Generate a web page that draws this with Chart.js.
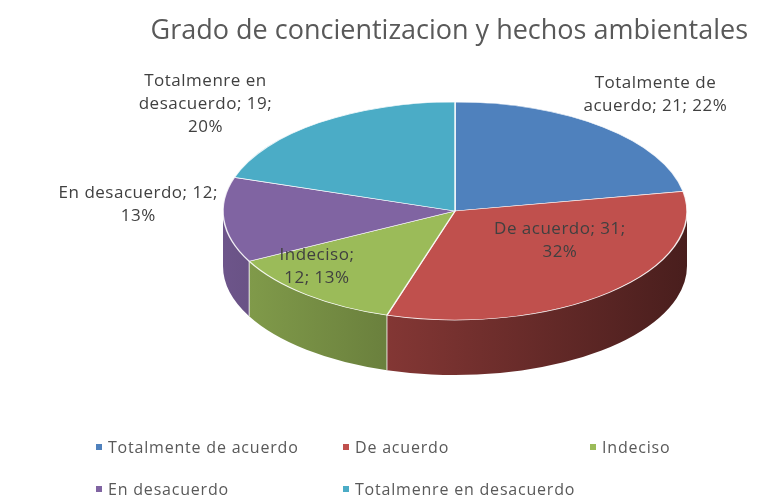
<!DOCTYPE html>
<html>
<head>
<meta charset="utf-8">
<script src="https://cdn.jsdelivr.net/npm/chart.js@4.4.1/dist/chart.umd.min.js"></script>
<style>
  html, body { margin: 0; padding: 0; background: #fff; }
  #wrap { position: relative; width: 763px; height: 501px; }
  #legend {
    position: absolute; left: 96px; top: 436px;
    display: grid; grid-template-columns: 247px 247px 150px; row-gap: 20px;
    font-family: 'Open Sans', sans-serif; font-size: 16px; letter-spacing: 0.8px;
    color: #595959; line-height: 22px;
  }
  .item { display: flex; align-items: center; white-space: nowrap; }
  .sw { width: 6px; height: 6px; margin-right: 6px; }
</style>
</head>
<body>
<div id="wrap">
  <canvas id="myChart" width="763" height="501"></canvas>
  <div id="legend"></div>
</div>
<script>
const categories = ['Totalmente de acuerdo', 'De acuerdo', 'Indeciso', 'En desacuerdo', 'Totalmenre en desacuerdo'];
const counts = [21, 31, 12, 12, 19];
const percents = [22, 32, 13, 13, 20];
const colors = ['#4f81bd', '#c0504d', '#9bbb59', '#8064a2', '#4bacc6'];

// where the tilted pie sits on the page
const pie = { cx: 455, cy: 211, rx: 232, ry: 109, depth: 55 };
// label anchor: [x factor, y factor, wrap width]
const labelPlace = [[1.35, 1.39, 160], [0.68, 0.36, 140], [0.93, 0.67, 90], [1.37, -0.67, 175], [1.83, 1.21, 140]];

const shade = (hex, f) => {
  const n = parseInt(hex.slice(1), 16);
  const r = Math.round(((n >> 16) & 255) * f), g = Math.round(((n >> 8) & 255) * f), b = Math.round((n & 255) * f);
  return `rgb(${r},${g},${b})`;
};

const wrapText = (ctx, text, width) => {
  const words = text.split(' ');
  const lines = [];
  let line = words[0];
  for (let i = 1; i < words.length; i++) {
    const test = line + ' ' + words[i];
    if (ctx.measureText(test).width > width) { lines.push(line); line = words[i]; }
    else line = test;
  }
  lines.push(line);
  return lines;
};

const tiltPlugin = {
  id: 'tilt',
  beforeDatasetsDraw(chart) {
    const ctx = chart.ctx;
    const arcs = chart.getDatasetMeta(0).data;
    // side walls (front half only)
    arcs.forEach((arc, i) => {
      const a1 = Math.max(arc.startAngle, 0), a2 = Math.min(arc.endAngle, Math.PI);
      if (a2 <= a1) return;
      const g = ctx.createLinearGradient(pie.cx - pie.rx, 0, pie.cx + pie.rx, 0);
      g.addColorStop(0, shade(colors[i], 0.85));
      g.addColorStop(1, shade(colors[i], 0.38));
      ctx.beginPath();
      ctx.ellipse(pie.cx, pie.cy, pie.rx, pie.ry, 0, a1, a2);
      ctx.ellipse(pie.cx, pie.cy + pie.depth, pie.rx, pie.ry, 0, a2, a1, true);
      ctx.closePath();
      ctx.fillStyle = g;
      ctx.fill();
      if (arc.startAngle > 0) {
        const x = pie.cx + pie.rx * Math.cos(a1), y = pie.cy + pie.ry * Math.sin(a1);
        ctx.beginPath();
        ctx.moveTo(x, y);
        ctx.lineTo(x, y + pie.depth);
        ctx.strokeStyle = 'rgba(255,255,255,0.8)';
        ctx.lineWidth = 1;
        ctx.stroke();
      }
    });
    // squash the flat pie into the top face
    const a = arcs[0];
    ctx.save();
    ctx.translate(pie.cx, pie.cy);
    ctx.scale(pie.rx / a.outerRadius, pie.ry / a.outerRadius);
    ctx.translate(-a.x, -a.y);
  },
  afterDatasetsDraw(chart) {
    const ctx = chart.ctx;
    ctx.restore();
    const arcs = chart.getDatasetMeta(0).data;
    ctx.save();
    ctx.font = "17px 'Open Sans'";
    ctx.letterSpacing = '0.5px';
    ctx.fillStyle = '#404040';
    ctx.textAlign = 'center';
    ctx.textBaseline = 'middle';
    arcs.forEach((arc, i) => {
      const mid = (arc.startAngle + arc.endAngle) / 2;
      const [fx, fy, w] = labelPlace[i];
      const x = pie.cx + fx * pie.rx * Math.cos(mid);
      const y = pie.cy + fy * pie.ry * Math.sin(mid);
      const lines = wrapText(ctx, `${categories[i]}; ${counts[i]}; ${percents[i]}%`, w);
      const lh = 23;
      lines.forEach((l, k) => ctx.fillText(l, x, y + (k - (lines.length - 1) / 2) * lh));
    });
    ctx.restore();
  }
};

const ctx = document.getElementById('myChart').getContext('2d');
const chart = new Chart(ctx, {
  type: 'pie',
  data: {
    labels: categories,
    datasets: [{
      data: counts,
      backgroundColor: colors,
      borderColor: 'rgba(255,255,255,0.85)',
      borderWidth: 1.5,
    }]
  },
  options: {
    responsive: false,
    animation: false,
    events: [],
    layout: { padding: { right: 15 } },
    plugins: {
      legend: { display: false },
      tooltip: { enabled: false },
      title: {
        display: true,
        text: 'Grado de concientizacion y hechos ambientales',
        align: 'end',
        color: '#595959',
        font: { family: "'Open Sans'", size: 27, weight: 'normal' },
        padding: { top: 15, bottom: 10 }
      }
    }
  },
  plugins: [tiltPlugin]
});

document.getElementById('legend').innerHTML = categories.map((c, i) =>
  `<div class="item"><span class="sw" style="background:${colors[i]}"></span>${c}</div>`).join('');
</script>
</body>
</html>
